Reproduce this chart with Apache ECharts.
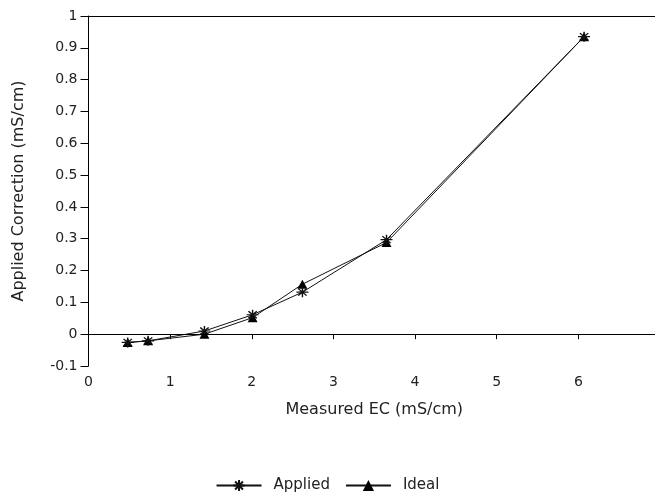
<!DOCTYPE html>
<html>
<head>
<meta charset="utf-8">
<script src="https://cdn.jsdelivr.net/npm/echarts@6/dist/echarts.min.js"></script>
<style>
  html, body { margin: 0; padding: 0; background: #fff; }
  #chart { width: 655px; height: 493px; }
</style>
</head>
<body>
<div id="chart"></div>
<script>
// measured EC (x) and correction values (y)
const measuredEC = [0.48, 0.73, 1.42, 2.01, 2.62, 3.65, 6.07];
const applied = [-0.026, -0.021, 0.010, 0.061, 0.132, 0.297, 0.935];
const ideal = [-0.026, -0.021, 0.000, 0.052, 0.157, 0.288, 0.935];
const xTicks = [0, 1, 2, 3, 4, 5, 6, 7];
const yTicks = [-0.1, 0, 0.1, 0.2, 0.3, 0.4, 0.5, 0.6, 0.7, 0.8, 0.9, 1];

const font = 'DejaVu Sans, Verdana, sans-serif';
const ink = '#222';
const asterisk = 'path://M0 5 L10 5 M5 0 L5 10 M1.5 1.5 L8.5 8.5 M8.5 1.5 L1.5 8.5';

function pairs(ys) {
	return measuredEC.map((x, i) => [x, ys[i]]);
}

const chart = echarts.init(document.getElementById('chart'));
chart.setOption({
	animation: false,
	backgroundColor: '#fff',
	textStyle: { fontFamily: font },
	grid: { left: 88.5, top: 16, right: -5, bottom: 127, outerBoundsMode: 'none' },
	legend: {
		top: 473,
		left: 'center',
		itemWidth: 45,
		itemHeight: 14,
		itemGap: 15,
		textStyle: { color: ink, fontSize: 15, fontFamily: font, padding: [0, 0, 0, 7] },
		data: ['Applied', 'Ideal'],
	},
	xAxis: [
		{
			type: 'value',
			min: xTicks[0],
			max: xTicks[xTicks.length - 1],
			interval: 1,
			name: 'Measured EC (mS/cm)',
			nameLocation: 'middle',
			nameGap: 36,
			nameTextStyle: { color: ink, fontSize: 16, fontFamily: font },
			axisLine: { show: true, lineStyle: { color: '#000', width: 1 } },
			axisTick: { show: true, length: 5, lineStyle: { color: '#000' } },
			axisLabel: { color: ink, fontSize: 14, margin: 9 },
			splitLine: { show: false },
		},
		{
			type: 'value',
			position: 'top',
			min: 0,
			max: 7,
			axisLine: { show: true, onZero: false, lineStyle: { color: '#000', width: 1 } },
			axisTick: { show: false },
			axisLabel: { show: false },
			splitLine: { show: false },
		},
	],
	yAxis: {
		type: 'value',
		min: yTicks[0],
		max: yTicks[yTicks.length - 1],
		interval: 0.1,
		name: 'Applied Correction (mS/cm)',
		nameLocation: 'middle',
		nameGap: 62,
		nameTextStyle: { color: ink, fontSize: 16, fontFamily: font },
		axisLine: { show: true, onZero: false, lineStyle: { color: '#000', width: 1 } },
		axisTick: { show: true, length: 8, lineStyle: { color: '#000' } },
		axisLabel: {
			color: ink,
			fontSize: 14,
			margin: 11,
			formatter: (v) => String(Math.round(v * 10) / 10),
		},
		splitLine: { show: false },
	},
	series: [
		{
			name: 'Applied',
			type: 'line',
			data: pairs(applied),
			symbol: asterisk,
			symbolSize: [12, 10],
			lineStyle: { color: '#111', width: 1 },
			itemStyle: { color: '#111', borderColor: '#111', borderWidth: 1.3 },
			z: 3,
			markLine: {
				silent: true,
				symbol: 'none',
				label: { show: false },
				lineStyle: { color: '#000', width: 1, type: 'solid' },
				data: [{ yAxis: 0 }],
			},
		},
		{
			name: 'Ideal',
			type: 'line',
			data: pairs(ideal),
			symbol: 'triangle',
			symbolSize: [10, 9],
			lineStyle: { color: '#111', width: 1 },
			itemStyle: { color: '#000' },
			z: 2,
		},
	],
});
</script>
</body>
</html>
